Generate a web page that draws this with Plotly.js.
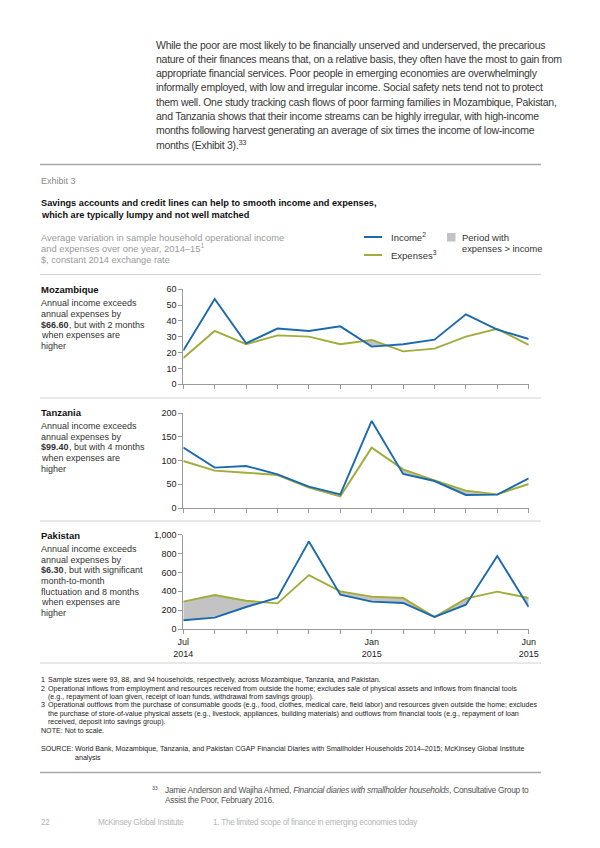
<!DOCTYPE html>
<html>
<head>
<meta charset="utf-8">
<script src="https://cdn.plot.ly/plotly-3.0.1.min.js"></script>
<style>
  html, body { margin: 0; padding: 0; background: #fff; }
  #chart { width: 600px; height: 848px; }
  text[style*="Arimo"] { letter-spacing: -0.27px; }
</style>
</head>
<body>
<div id="chart"></div>
<script>
// ---------- data ----------
const monthIndex = [0, 1, 2, 3, 4, 5, 6, 7, 8, 9, 10, 11];
const monthNames = ['Jul 2014', 'Aug 2014', 'Sep 2014', 'Oct 2014', 'Nov 2014', 'Dec 2014',
                    'Jan 2015', 'Feb 2015', 'Mar 2015', 'Apr 2015', 'May 2015', 'Jun 2015'];
const xTickVals = [0, 6, 11];
const xTickText = ['Jul<br>2014', 'Jan<br>2015', 'Jun<br>2015'];

const mozIncome   = [21.3, 53.9, 25.9, 35.2, 33.7, 36.6, 23.8, 25.3, 28.2, 44.2, 34.5, 28.6];
const mozExpenses = [16.6, 33.7, 25.3, 30.9, 30.1, 25.3, 28.0, 20.8, 22.5, 30.1, 35.0, 24.8];
const mozTicks    = [0, 10, 20, 30, 40, 50, 60];

const tanIncome   = [127.5, 85.2, 88.7, 71.1, 45.0, 28.9, 183.8, 71.8, 57.0, 27.5, 28.2, 62.7];
const tanExpenses = [99.3, 78.9, 74.6, 69.7, 43.0, 24.6, 127.5, 81.7, 58.5, 36.6, 28.9, 50.7];
const tanTicks    = [0, 50, 100, 150, 200];

const pakIncome   = [92, 120, 233, 332, 929, 364, 290, 276, 128, 258, 774, 233];
const pakExpenses = [290, 360, 300, 272, 572, 399, 343, 329, 127, 322, 396, 329];
const pakTicks    = [0, 200, 400, 600, 800, 1000];

// ---------- styles ----------
const W = 600, H = 848;
const BLUE = '#1c6aae', GREEN = '#a1ac3b', FILLGRAY = '#c3c3c3';
const SANS = 'Liberation Sans, Arial, Helvetica, sans-serif';
const COND = 'Arimo, Liberation Sans, Arial, sans-serif';   // tightened via CSS letter-spacing
const px = v => v / W;
const py = v => 1 - v / H;

// shaded region where expenses exceed income, built from the data arrays
function gapTraces(inc, exp, xa, ya) {
  const xs = [], lo = [], hi = [];
  for (let i = 0; i < inc.length; i++) {
    xs.push(monthIndex[i]); lo.push(inc[i]); hi.push(Math.max(inc[i], exp[i]));
    if (i < inc.length - 1) {
      const d0 = exp[i] - inc[i], d1 = exp[i + 1] - inc[i + 1];
      if (d0 * d1 < 0) {
        const t = d0 / (d0 - d1);
        const yc = inc[i] + t * (inc[i + 1] - inc[i]);
        xs.push(monthIndex[i] + t); lo.push(yc); hi.push(yc);
      }
    }
  }
  return [
    { x: xs, y: lo, xaxis: xa, yaxis: ya, mode: 'lines', line: { width: 0, color: 'rgba(0,0,0,0)' },
      hoverinfo: 'skip', showlegend: false },
    { x: xs, y: hi, xaxis: xa, yaxis: ya, mode: 'lines', line: { width: 0, color: 'rgba(0,0,0,0)' },
      fill: 'tonexty', fillcolor: FILLGRAY, hoverinfo: 'skip', showlegend: false }
  ];
}
function lineTrace(vals, color, name, xa, ya) {
  return { x: monthIndex, y: vals, xaxis: xa, yaxis: ya, mode: 'lines', name: name,
           text: monthNames, line: { color: color, width: 1.9 }, showlegend: false };
}

const data = [].concat(
  gapTraces(mozIncome, mozExpenses, 'x', 'y'),
  gapTraces(tanIncome, tanExpenses, 'x2', 'y2'),
  gapTraces(pakIncome, pakExpenses, 'x3', 'y3'),
  [lineTrace(mozExpenses, GREEN, 'Expenses', 'x', 'y'),
   lineTrace(mozIncome, BLUE, 'Income', 'x', 'y'),
   lineTrace(tanExpenses, GREEN, 'Expenses', 'x2', 'y2'),
   lineTrace(tanIncome, BLUE, 'Income', 'x2', 'y2'),
   lineTrace(pakExpenses, GREEN, 'Expenses', 'x3', 'y3'),
   lineTrace(pakIncome, BLUE, 'Income', 'x3', 'y3')]
);

const AXC = '#9a9a9a';
function xAxis(anchor, withLabels) {
  const ax = { domain: [px(183.3), px(528.7)], anchor: anchor, range: [0, 11],
           ticks: 'outside', ticklen: 4, tickcolor: AXC, tickwidth: 1,
           showline: true, linecolor: AXC, linewidth: 1, showgrid: false, zeroline: false,
           tickfont: { family: SANS, size: 9, color: '#222' }, fixedrange: true };
  if (withLabels) {
    ax.tickmode = 'array'; ax.tickvals = xTickVals; ax.ticktext = xTickText;
    ax.minor = { tickmode: 'array', tickvals: monthIndex, ticks: 'outside', ticklen: 4,
                 tickcolor: AXC, tickwidth: 1, showgrid: false };
  } else {
    ax.tickmode = 'array'; ax.tickvals = monthIndex; ax.showticklabels = false;
  }
  return ax;
}
function yAxis(anchor, y0, y1, ticks, fmt) {
  return { domain: [py(y0), py(y1)], anchor: anchor, range: [ticks[0], ticks[ticks.length - 1]],
           tickmode: 'array', tickvals: ticks, tickformat: fmt, ticks: 'outside', ticklen: 4,
           tickcolor: AXC, showline: true, linecolor: AXC, linewidth: 1, showgrid: false,
           zeroline: false, tickfont: { family: SANS, size: 9, color: '#222' }, fixedrange: true };
}

const ann = [];
function T(x, y, text, size, color, family, weight) {
  ann.push({ xref: 'paper', yref: 'paper', x: px(x), y: py(y), text: text,
    showarrow: false, xanchor: 'left', yanchor: 'middle', borderpad: 0,
    font: { family: family || SANS, size: size, color: color, weight: weight || 'normal' } });
}
// a line that starts with a bold part followed by regular text
const measureCtx = document.createElement('canvas').getContext('2d');
function TB(x, y, boldPart, rest, size, color) {
  measureCtx.font = 'bold ' + size + 'px "Liberation Sans", Arial, sans-serif';
  const w = measureCtx.measureText(boldPart).width;
  T(x, y, boldPart, size, color, SANS, 'bold');
  T(x + w, y, rest, size, color, SANS);
}

// intro paragraph
const para = [
  'While the poor are most likely to be financially unserved and underserved, the precarious',
  'nature of their finances means that, on a relative basis, they often have the most to gain from',
  'appropriate financial services. Poor people in emerging economies are overwhelmingly',
  'informally employed, with low and irregular income. Social safety nets tend not to protect',
  'them well. One study tracking cash flows of poor farming families in Mozambique, Pakistan,',
  'and Tanzania shows that their income streams can be highly irregular, with high-income',
  'months following harvest generating an average of six times the income of low-income',
  'months (Exhibit 3).<sup>33</sup>'
];
para.forEach((l, i) => T(154.5, 44.5 + i * 14.3, l, 10.5, '#383838', COND));

T(40, 181, 'Exhibit 3', 9, '#8a8a8a');
T(40, 203, 'Savings accounts and credit lines can help to smooth income and expenses,', 9.2, '#111', SANS, 'bold');
T(40, 214.5, 'which are typically lumpy and not well matched', 9.2, '#111', SANS, 'bold');
T(40, 237, 'Average variation in sample household operational income', 9.4, '#9a9a9a');
T(40, 248, 'and expenses over one year, 2014–15<sup>1</sup>', 9.4, '#9a9a9a');
T(40, 259.5, '$, constant 2014 exchange rate', 9.2, '#9a9a9a');

// legend
T(389.5, 237, 'Income<sup>2</sup>', 9.5, '#333');
T(389.5, 255, 'Expenses<sup>3</sup>', 9.5, '#333');
T(461, 237, 'Period with', 9.5, '#333');
T(461, 248.5, 'expenses > income', 9.3, '#333');

// panel labels
T(40, 289, 'Mozambique', 9.5, '#111', SANS, 'bold');
['Annual income exceeds', 'annual expenses by', null, 'when expenses are', 'higher']
  .forEach((l, i) => { if (l) T(40, 303 + i * 10.8, l, 9, '#333'); });
TB(40, 303 + 2 * 10.8, '$66.60', ', but with 2 months', 9, '#333');

T(40, 412, 'Tanzania', 9.5, '#111', SANS, 'bold');
['Annual income exceeds', 'annual expenses by', null, 'when expenses are', 'higher']
  .forEach((l, i) => { if (l) T(40, 425.7 + i * 10.8, l, 9, '#333'); });
TB(40, 425.7 + 2 * 10.8, '$99.40', ', but with 4 months', 9, '#333');

T(40, 535, 'Pakistan', 9.5, '#111', SANS, 'bold');
['Annual income exceeds', 'annual expenses by', null, 'month-to-month',
 'fluctuation and 8 months', 'when expenses are', 'higher']
  .forEach((l, i) => { if (l) T(40, 548.8 + i * 10.7, l, 9, '#333'); });
TB(40, 548.8 + 2 * 10.7, '$6.30', ', but with significant', 9, '#333');

// footnotes
const FN = 7.1;
T(40, 680, '1', FN, '#222'); T(47, 680, 'Sample sizes were 93, 88, and 94 households, respectively, across Mozambique, Tanzania, and Pakistan.', FN, '#222');
T(40, 688.5, '2', FN, '#222'); T(47, 688.5, 'Operational inflows from employment and resources received from outside the home; excludes sale of physical assets and inflows from financial tools', FN, '#222');
T(47, 696.8, '(e.g., repayment of loan given, receipt of loan funds, withdrawal from savings group).', FN, '#222');
T(40, 705, '3', FN, '#222'); T(47, 705, 'Operational outflows from the purchase of consumable goods (e.g., food, clothes, medical care, field labor) and resources given outside the home; excludes', FN, '#222');
T(47, 713.5, 'the purchase of store-of-value physical assets (e.g., livestock, appliances, building materials) and outflows from financial tools (e.g., repayment of loan', FN, '#222');
T(47, 722, 'received, deposit into savings group).', FN, '#222');
T(40, 730.5, 'NOTE: Not to scale.', FN, '#222');
T(40, 749, 'SOURCE:', FN, '#222');
T(73.5, 749, 'World Bank, Mozambique, Tanzania, and Pakistan CGAP Financial Diaries with Smallholder Households 2014–2015; McKinsey Global Institute', FN, '#222');
T(73.5, 757.5, 'analysis', FN, '#222');

// page footnote and footer
T(151, 787.5, '33', 5.3, '#555', COND);
T(163.5, 790, 'Jamie Anderson and Wajiha Ahmed, <i>Financial diaries with smallholder households</i>, Consultative Group to', 8.4, '#555', COND);
T(163.5, 799.5, 'Assist the Poor, February 2016.', 8.4, '#555', COND);
T(40, 822, '22', 8.2, '#b5b5b5', COND);
T(97, 822, 'McKinsey Global Institute', 8.2, '#b5b5b5', COND);
T(212, 822, '1. The limited scope of finance in emerging economies today', 8.2, '#b5b5b5', COND);

function hline(y, color, width) {
  return { type: 'line', xref: 'paper', yref: 'paper', x0: px(40), x1: px(541), y0: py(y), y1: py(y),
           line: { color: color, width: width } };
}
const shapes = [
  hline(164.5, '#a8a8a8', 1.5),
  hline(274.5, '#d2d2d2', 1),
  hline(398, '#d2d2d2', 1),
  hline(521, '#d2d2d2', 1),
  hline(663, '#d2d2d2', 1),
  hline(772.5, '#a8a8a8', 1.5),
  { type: 'line', xref: 'paper', yref: 'paper', x0: px(364), x1: px(382), y0: py(237), y1: py(237),
    line: { color: BLUE, width: 2 } },
  { type: 'line', xref: 'paper', yref: 'paper', x0: px(364), x1: px(382), y0: py(255), y1: py(255),
    line: { color: GREEN, width: 2 } },
  { type: 'rect', xref: 'paper', yref: 'paper', x0: px(447), x1: px(455.5), y0: py(241.5), y1: py(233),
    fillcolor: FILLGRAY, line: { width: 0 } }
];

const layout = {
  width: W, height: H, margin: { l: 0, r: 0, t: 0, b: 0 },
  paper_bgcolor: '#fff', plot_bgcolor: 'rgba(0,0,0,0)', showlegend: false,
  font: { family: SANS },
  xaxis: xAxis('y', false),
  yaxis: yAxis('x', 384.3, 289.3, mozTicks, ''),
  xaxis2: xAxis('y2', false),
  yaxis2: yAxis('x2', 508, 413.3, tanTicks, ''),
  xaxis3: xAxis('y3', true),
  yaxis3: yAxis('x3', 629, 534.7, pakTicks, ','),
  annotations: ann, shapes: shapes
};

Plotly.newPlot('chart', data, layout, { displayModeBar: false, staticPlot: true }).then(gd => {
  gd.querySelectorAll('text').forEach(t => {
    if (!t.textContent || !t.textContent.trim()) t.remove();
  });
});
</script>
</body>
</html>
